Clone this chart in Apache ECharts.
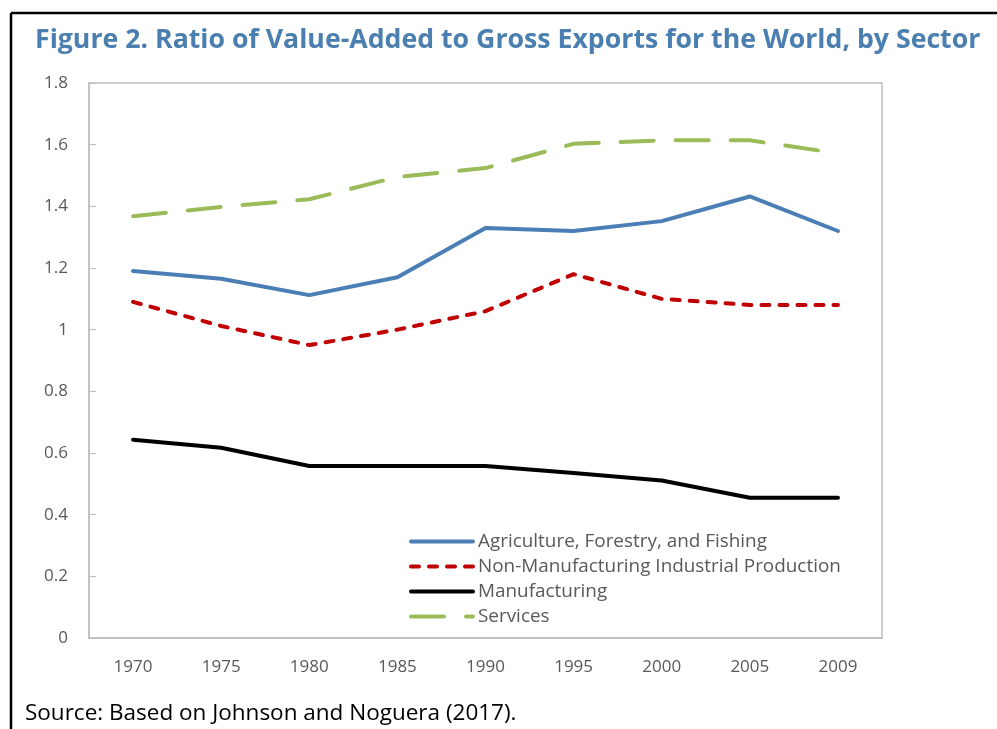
<!DOCTYPE html>
<html>
<head>
<meta charset="utf-8">
<script src="https://cdn.jsdelivr.net/npm/echarts@6/dist/echarts.min.js"></script>
<style>
html,body{margin:0;padding:0;background:#fff;}
#chart{width:997px;height:729px;}
</style>
</head>
<body>
<div id="chart"></div>
<script>
const years = ['1970','1975','1980','1985','1990','1995','2000','2005','2009'];
const agriculture = [1.19, 1.165, 1.112, 1.17, 1.33, 1.32, 1.352, 1.432, 1.32];
const nonManufacturing = [1.09, 1.012, 0.95, 1.0, 1.06, 1.18, 1.10, 1.08, 1.08];
const manufacturing = [0.643, 0.617, 0.558, 0.558, 0.558, 0.535, 0.511, 0.455, 0.455];
const services = [1.368, 1.398, 1.423, 1.495, 1.524, 1.603, 1.614, 1.614, 1.572];
const yTicks = { min: 0, max: 1.8, interval: 0.2 };

const chart = echarts.init(document.getElementById('chart'));
const labelColor = '#595959';
const font = '"Open Sans", sans-serif';
chart.setOption({
  backgroundColor: '#fff',
  animation: false,
  title: {
    text: 'Figure 2. Ratio of Value-Added to Gross Exports for the World, by Sector',
    left: 30, top: 22,
    textStyle: { color: '#4a7fb0', fontSize: 26.7, fontWeight: 'bold', fontFamily: font }
  },
  graphic: [
    { type: 'line', shape: { x1: 11, y1: 13, x2: 997, y2: 13 }, style: { stroke: '#000', lineWidth: 2.5 } },
    { type: 'line', shape: { x1: 11, y1: 13, x2: 11, y2: 729 }, style: { stroke: '#000', lineWidth: 2.5 } },
    { type: 'text', left: 25, top: 702, style: { text: 'Source: Based on Johnson and Noguera (2017).', fill: '#000', fontSize: 22.5, fontFamily: font } }
  ],
  legend: {
    orient: 'vertical', left: 404, top: 527, itemWidth: 62, itemHeight: 14, itemGap: 6,
    textStyle: { color: labelColor, fontSize: 18.9, fontFamily: font },
    itemStyle: { color: 'rgba(0,0,0,0)', borderWidth: 0, opacity: 0 },
    lineStyle: { width: 4 },
    data: ['Agriculture, Forestry, and Fishing', 'Non-Manufacturing Industrial Production', 'Manufacturing', 'Services']
  },
  grid: { left: 89, right: 115, top: 83, bottom: 91, show: true, borderColor: '#bfbfbf', borderWidth: 1.5 },
  xAxis: {
    type: 'category', data: years, boundaryGap: true,
    axisLine: { lineStyle: { color: '#bfbfbf', width: 1.5 } },
    axisTick: { inside: true, length: 7, lineStyle: { color: '#bfbfbf' } },
    axisLabel: { color: labelColor, fontSize: 17, margin: 21, fontFamily: font }
  },
  yAxis: {
    type: 'value', min: yTicks.min, max: yTicks.max, interval: yTicks.interval,
    axisLine: { show: true, lineStyle: { color: '#bfbfbf', width: 1.5 } },
    axisTick: { show: true, inside: true, length: 7, lineStyle: { color: '#bfbfbf' } },
    splitLine: { show: false },
    axisLabel: { color: labelColor, fontSize: 17, margin: 21, fontFamily: font,
      formatter: v => (Math.round(v * 10) / 10).toString() }
  },
  series: [
    { name: 'Agriculture, Forestry, and Fishing', type: 'line', data: agriculture, symbol: 'none',
      lineStyle: { color: '#4a7eb4', width: 4, cap: 'round' }, itemStyle: { color: '#4a7eb4' } },
    { name: 'Non-Manufacturing Industrial Production', type: 'line', data: nonManufacturing, symbol: 'none',
      lineStyle: { color: '#c00000', width: 4, type: [8, 10], cap: 'round' }, itemStyle: { color: '#c00000' } },
    { name: 'Manufacturing', type: 'line', data: manufacturing, symbol: 'none',
      lineStyle: { color: '#000', width: 4, cap: 'round' }, itemStyle: { color: '#000' } },
    { name: 'Services', type: 'line', data: services, symbol: 'none',
      lineStyle: { color: '#9bbb59', width: 4, type: [33, 22], cap: 'round' }, itemStyle: { color: '#9bbb59' } }
  ]
});
</script>
</body>
</html>
